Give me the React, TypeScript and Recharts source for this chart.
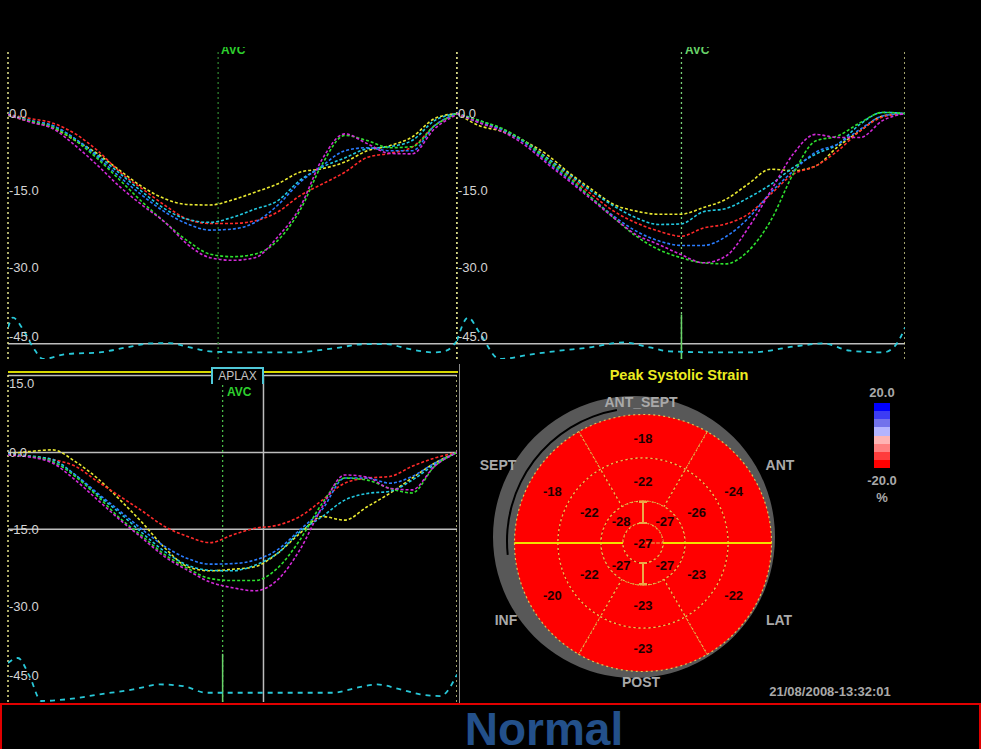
import React from "react";
import { LineChart, Line, XAxis, YAxis, ReferenceLine, PieChart, Pie, Cell } from "recharts";

const FONT = '"Liberation Sans", Arial, sans-serif';

// time axis, % of cardiac cycle
const TIME = [0, 5, 10, 15, 20, 25, 30, 35, 40, 45, 50, 55, 60, 65, 70, 75, 80, 85, 90, 95, 100];
const TIME_TICKS = [7, 14, 21, 28, 35, 42, 49, 56, 63, 70, 77, 84, 91, 98];

const SERIES = ["yellow", "red", "cyan", "blue", "green", "magenta"];
const SERIES_COLORS: Record<string, string> = {
  yellow: "#e8e830",
  red: "#ff2a2a",
  cyan: "#22c8e0",
  blue: "#2a7dff",
  green: "#2ee02e",
  magenta: "#d22ad8",
};

// top-left view
const TL_YELLOW = [-0.4, -1.6, -2.8, -5.3, -7.9, -11.2, -14.4, -16.7, -17.8, -17.9, -16.9, -15.4, -13.8, -11.5, -10.8, -9.5, -7.3, -6.3, -4.6, -1.0, 0];
const TL_RED = [-0.2, -1.0, -1.9, -4.0, -7.3, -11.5, -14.8, -18.0, -20.7, -21.5, -21.5, -21.0, -19.3, -16.1, -13.8, -11.5, -8.6, -7.8, -6.6, -2.4, 0];
const TL_CYAN = [-0.2, -1.4, -2.4, -5.0, -8.2, -11.8, -15.4, -18.7, -20.7, -21.3, -20.3, -18.7, -17.1, -13.1, -10.5, -8.7, -6.9, -6.5, -5.3, -1.4, 0];
const TL_BLUE = [-0.2, -1.4, -2.4, -5.0, -8.6, -12.5, -16.1, -19.3, -21.6, -22.8, -22.6, -21.3, -18.0, -13.5, -10.2, -7.3, -6.7, -7.3, -7.3, -2.4, 0];
const TL_GREEN = [-0.2, -1.5, -2.7, -5.3, -8.9, -13.1, -17.4, -21.3, -24.9, -27.5, -28.0, -27.5, -24.9, -19.0, -9.9, -4.3, -5.3, -6.7, -6.5, -2.4, 0];
const TL_MAGENTA = [-0.2, -1.7, -3.0, -6.3, -10.2, -14.4, -18.0, -21.3, -25.6, -28.2, -28.7, -28.2, -24.2, -18.4, -8.9, -4.0, -5.9, -7.8, -7.9, -3.0, -0.2];
const TL_ECG_T = [0, 1.1, 3.3, 5.6, 7.8, 13, 20.4, 26.4, 31.6, 36, 40.5, 45.7, 53.8, 63.5, 72.4, 79.8, 84.3, 88.7, 94.7, 97.6, 100];
const TL_ECG = [0.75, 1.05, 0.7, 0.15, -0.2, -0.05, 0.0, 0.15, 0.27, 0.28, 0.15, 0.02, 0.0, 0.0, 0.12, 0.25, 0.25, 0.12, 0.0, 0.05, 0.35];

// top-right view
const TR_YELLOW = [0, -2.4, -3.5, -5.4, -8.0, -11.6, -14.8, -17.8, -19.1, -19.7, -19.7, -18.4, -16.8, -13.8, -10.9, -11.2, -10.3, -6.5, -3.4, -0.5, 0];
const TR_RED = [0, -1.8, -3.1, -5.4, -8.6, -12.2, -15.8, -19.1, -21.4, -23.0, -24.0, -22.4, -21.6, -19.7, -15.8, -11.9, -10.3, -7.3, -3.4, -0.7, 0];
const TR_CYAN = [0, -1.4, -3.1, -5.4, -8.6, -11.9, -15.2, -18.1, -20.4, -21.7, -21.6, -19.2, -18.6, -16.5, -13.9, -10.6, -8.0, -6.0, -2.1, 0.2, 0];
const TR_BLUE = [0, -1.8, -3.1, -5.7, -9.3, -12.9, -16.5, -20.1, -23.0, -24.9, -25.8, -25.8, -24.1, -20.5, -15.5, -11.3, -7.6, -6.0, -3.1, -0.5, 0];
const TR_GREEN = [0, -1.4, -2.9, -5.4, -9.0, -12.5, -16.5, -20.4, -24.0, -26.6, -28.2, -29.2, -29.4, -26.9, -21.0, -11.9, -5.4, -4.4, -1.8, 0.2, 0];
const TR_MAGENTA = [0, -1.8, -3.5, -6.1, -9.7, -13.2, -16.8, -20.4, -23.7, -25.6, -27.6, -29.2, -27.9, -22.4, -15.2, -8.0, -4.1, -4.7, -4.7, -1.4, 0];
const TR_ECG_T = [0, 2.5, 5, 9.5, 17, 22.9, 29.6, 37.1, 43, 47.5, 58, 65.4, 76.5, 81.8, 87.7, 95.2, 98.1, 100];
const TR_ECG = [0.35, 1.05, 0.6, -0.2, -0.05, 0.05, 0.15, 0.3, 0.15, 0.03, 0.0, 0.0, 0.2, 0.27, 0.05, 0.0, 0.25, 0.75];

// bottom-left view (APLAX)
const BL_YELLOW = [-0.3, 0.2, 0.5, -1.8, -5.1, -9.3, -13.8, -18.7, -22.3, -23.1, -22.8, -22.3, -19.7, -15.8, -12.5, -13.2, -10.6, -8.0, -5.0, -2.1, 0];
const BL_RED = [-0.5, -0.8, -1.4, -2.7, -5.7, -8.6, -11.5, -14.5, -16.4, -17.6, -16.1, -14.8, -14.2, -12.5, -9.3, -6.0, -5.0, -4.7, -2.7, -1.1, 0];
const BL_CYAN = [-0.3, -0.7, -1.4, -4.4, -8.3, -11.9, -15.8, -19.4, -22.0, -23.0, -23.1, -22.0, -19.7, -15.5, -12.5, -9.3, -8.0, -7.6, -5.4, -2.4, 0];
const BL_BLUE = [-0.3, -0.8, -1.8, -4.4, -8.0, -11.5, -15.1, -18.4, -20.7, -21.8, -21.7, -21.0, -19.0, -15.1, -11.1, -5.0, -5.0, -6.0, -4.7, -2.1, 0];
const BL_GREEN = [-0.5, -0.8, -1.8, -4.7, -8.6, -12.9, -16.4, -20.0, -22.6, -24.6, -25.0, -25.0, -22.6, -17.1, -9.9, -5.0, -5.4, -7.0, -7.9, -2.7, 0];
const BL_MAGENTA = [-0.5, -0.9, -2.1, -5.4, -9.3, -13.2, -16.8, -20.4, -23.0, -25.3, -26.4, -27.0, -24.9, -19.0, -10.6, -4.4, -4.8, -7.0, -7.3, -2.7, 0];
const BL_ECG_T = [0, 2.2, 4.8, 7.4, 13, 20.4, 27.9, 33.8, 39, 44.2, 54.6, 72.5, 77.7, 82.2, 87.4, 91.8, 96.3, 100];
const BL_ECG = [0.9, 1.05, 0.5, -0.25, -0.2, -0.05, 0.1, 0.25, 0.2, 0.0, 0.0, 0.0, 0.15, 0.25, 0.1, -0.05, -0.1, 0.55];

// bull's eye segments (counterclockwise from the top)
const BASAL = [-18, -18, -20, -23, -22, -24];
const MID = [-22, -22, -22, -23, -23, -26];
const APICAL = [-27, -28, -27, -27];
const APEX = [-27];
const COLOR_BINS = ["#0000ff", "#3c3cf4", "#7272ec", "#b4b4ff", "#ffb4b4", "#ff8080", "#ff3c3c", "#ff0000"];

const strainColor = (v: number) => {
  const i = Math.min(7, Math.max(0, Math.floor((20 - v) / 5)));
  return COLOR_BINS[i];
};

const StrainTick = (props: any) => {
  const { y, payload, topTick } = props;
  const v = payload.value;
  const dy = v === -45 ? -8 : v === topTick ? 7 : 0;
  return (
    <text x={2} y={y + dy} dy={5} fill="#d4d4d4" fontSize={13} fontFamily={FONT} textAnchor="start">
      {(v < 0 ? "-" : "") + Math.abs(v).toFixed(1)}
    </text>
  );
};

type PanelProps = {
  left: number;
  top: number;
  width: number;
  height: number;
  curves: Record<string, number[]>;
  ecgTime: number[];
  ecg: number[];
  strainDomain: [number, number];
  ecgDomain: [number, number];
  yTicks: number[];
  avc: number;
  avcColor: string;
  avcSolid?: boolean;
  hLines: number[];
  vLine?: number;
};

const StrainPanel = (p: PanelProps) => {
  const rows = TIME.map((t, i) => {
    const r: any = { t };
    SERIES.forEach((k) => (r[k] = p.curves[k][i]));
    return r;
  });
  const ecgRows = p.ecgTime.map((t, i) => ({ t, ecg: p.ecg[i] }));
  const [lo, hi] = p.strainDomain;
  // axes take 1px each so that they still get drawn
  return (
    <div style={{ position: "absolute", left: p.left - 1, top: p.top }}>
      <LineChart width={p.width + 1} height={p.height + 1} data={rows} margin={{ top: 0, right: 0, bottom: 0, left: 0 }}>
        <XAxis
          type="number"
          dataKey="t"
          domain={[0, 100]}
          ticks={TIME_TICKS}
          interval={0}
          tick={false}
          tickLine={{ stroke: "#d8d8d8" }}
          tickSize={5}
          axisLine={false}
          mirror
          height={1}
          allowDataOverflow
        />
        <YAxis
          yAxisId="s"
          domain={p.strainDomain}
          ticks={p.yTicks}
          interval={0}
          width={1}
          tickSize={0}
          tickMargin={0}
          axisLine={false}
          tickLine={false}
          tick={(tp: any) => <StrainTick {...tp} topTick={hi > 12.5 ? 15 : 999} />}
          allowDataOverflow
        />
        <YAxis yAxisId="ecg" domain={p.ecgDomain} hide allowDataOverflow />
        {p.hLines.map((h) => (
          <ReferenceLine key={h} yAxisId="s" y={h} stroke="#bdbdbd" strokeWidth={1.5} />
        ))}
        {p.vLine !== undefined && (
          <ReferenceLine
            yAxisId="s"
            segment={[{ x: p.vLine, y: 15 }, { x: p.vLine, y: lo }]}
            stroke="#bdbdbd"
            strokeWidth={1.5}
          />
        )}
        <ReferenceLine yAxisId="s" x={0} stroke="#e4e48a" strokeWidth={1.5} strokeDasharray="2 3" />
        <ReferenceLine yAxisId="s" x={100} stroke="#d8d890" strokeWidth={1.5} strokeDasharray="2 3" />
        <ReferenceLine yAxisId="s" x={p.avc} stroke={p.avcColor} strokeWidth={1.3} strokeDasharray="2 3" />
        {p.avcSolid && (
          <ReferenceLine
            yAxisId="s"
            segment={[{ x: p.avc, y: -39.3 }, { x: p.avc, y: lo }]}
            stroke="#6ad46a"
            strokeWidth={1.5}
          />
        )}
        <Line
          yAxisId="ecg"
          data={ecgRows}
          dataKey="ecg"
          type="monotone"
          stroke="#28c8d8"
          strokeWidth={1.8}
          strokeDasharray="5 5"
          dot={false}
          isAnimationActive={false}
        />
        {SERIES.map((k) => (
          <Line
            key={k}
            yAxisId="s"
            dataKey={k}
            type="monotone"
            stroke={SERIES_COLORS[k]}
            strokeWidth={1.6}
            strokeDasharray="3 2"
            dot={false}
            isAnimationActive={false}
          />
        ))}
      </LineChart>
    </div>
  );
};

const segLabel = (vals: number[], adj: number) => (props: any) => {
  const { cx, cy, midAngle, innerRadius, outerRadius, index } = props;
  const r = innerRadius === 0 ? 0 : (innerRadius + outerRadius) / 2 + adj;
  const rad = Math.PI / 180;
  const x = cx + r * Math.cos(-midAngle * rad);
  const y = cy + r * Math.sin(-midAngle * rad);
  return (
    <text x={x} y={y} dy={5} textAnchor="middle" fill="#1c0000" fontSize={13} fontWeight="bold" fontFamily={FONT}>
      {vals[index]}
    </text>
  );
};

const Txt = ({ x, y, children, size = 13, color = "#a9a9a9", bold = true }: any) => (
  <div
    style={{
      position: "absolute",
      left: x,
      top: y,
      transform: "translate(-50%, -50%)",
      whiteSpace: "nowrap",
      fontSize: size,
      lineHeight: 1,
      fontWeight: bold ? "bold" : "normal",
      color,
      fontFamily: FONT,
    }}
  >
    {children}
  </div>
);

const BullsEye = () => {
  const w = (vals: number[]) => vals.map((v) => ({ w: 1, strain: v }));
  const sectorStroke = { stroke: "#e8c050", strokeWidth: 1.2, strokeDasharray: "2 3" };
  return (
    <div style={{ position: "absolute", left: 463, top: 363 }}>
      <PieChart width={360} height={340} margin={{ top: 0, right: 0, bottom: 0, left: 0 }}>
        <Pie data={[{ w: 1 }]} dataKey="w" cx={171} cy={174} innerRadius={116} outerRadius={141} stroke="none" fill="#585858" isAnimationActive={false} />
        <Pie data={[{ w: 1 }]} dataKey="w" cx={177} cy={178} innerRadius={132} outerRadius={134} startAngle={100} endAngle={186} stroke="none" fill="#000" isAnimationActive={false} />
        <Pie
          data={w(BASAL)}
          dataKey="w"
          cx={180}
          cy={180}
          innerRadius={85}
          outerRadius={128.5}
          startAngle={60}
          endAngle={420}
          label={segLabel(BASAL, -2)}
          labelLine={false}
          isAnimationActive={false}
        >
          {BASAL.map((v, i) => (
            <Cell key={i} fill={strainColor(v)} {...sectorStroke} />
          ))}
        </Pie>
        <Pie
          data={w(MID)}
          dataKey="w"
          cx={180}
          cy={180}
          innerRadius={42}
          outerRadius={85}
          startAngle={60}
          endAngle={420}
          label={segLabel(MID, -1.5)}
          labelLine={false}
          isAnimationActive={false}
        >
          {MID.map((v, i) => (
            <Cell key={i} fill={strainColor(v)} {...sectorStroke} />
          ))}
        </Pie>
        <Pie
          data={w(APICAL)}
          dataKey="w"
          cx={180}
          cy={180}
          innerRadius={20}
          outerRadius={42}
          startAngle={0}
          endAngle={360}
          label={segLabel(APICAL, 0)}
          labelLine={false}
          isAnimationActive={false}
        >
          {APICAL.map((v, i) => (
            <Cell key={i} fill={strainColor(v)} {...sectorStroke} />
          ))}
        </Pie>
        <Pie
          data={w(APEX)}
          dataKey="w"
          cx={180}
          cy={180}
          innerRadius={0}
          outerRadius={20}
          label={segLabel(APEX, 0)}
          labelLine={false}
          isAnimationActive={false}
        >
          {APEX.map((v, i) => (
            <Cell key={i} fill={strainColor(v)} {...sectorStroke} />
          ))}
        </Pie>
      </PieChart>
      <svg width={360} height={340} style={{ position: "absolute", left: 0, top: 0, pointerEvents: "none" }}>
        <line x1={51.5} y1={180} x2={160} y2={180} stroke="#f4e000" strokeWidth={2} />
        <line x1={200} y1={180} x2={308.5} y2={180} stroke="#f4e000" strokeWidth={2} />
        <g stroke="#eca848" strokeWidth={2}>
          <line x1={180} y1={139} x2={180} y2={160} />
          <line x1={176} y1={139} x2={184} y2={139} />
          <line x1={176} y1={160} x2={184} y2={160} />
          <line x1={180} y1={200} x2={180} y2={221} />
          <line x1={176} y1={200} x2={184} y2={200} />
          <line x1={176} y1={221} x2={184} y2={221} />
        </g>
      </svg>
    </div>
  );
};

export default function App() {
  return (
    <div
      style={{
        position: "fixed",
        left: 0,
        top: 0,
        width: 981,
        height: 749,
        background: "#000",
        overflow: "hidden",
        fontFamily: FONT,
      }}
    >
      <StrainPanel
        left={8}
        top={50}
        width={449}
        height={308}
        curves={{ yellow: TL_YELLOW, red: TL_RED, cyan: TL_CYAN, blue: TL_BLUE, green: TL_GREEN, magenta: TL_MAGENTA }}
        ecgTime={TL_ECG_T}
        ecg={TL_ECG}
        strainDomain={[-48, 12.4]}
        ecgDomain={[-0.2, 9.13]}
        yTicks={[0, -15, -30, -45]}
        avc={46.8}
        avcColor="#2f7f2f"
        hLines={[-45]}
      />
      <StrainPanel
        left={457}
        top={50}
        width={448}
        height={308}
        curves={{ yellow: TR_YELLOW, red: TR_RED, cyan: TR_CYAN, blue: TR_BLUE, green: TR_GREEN, magenta: TR_MAGENTA }}
        ecgTime={TR_ECG_T}
        ecg={TR_ECG}
        strainDomain={[-48, 12.4]}
        ecgDomain={[-0.2, 9.13]}
        yTicks={[0, -15, -30, -45]}
        avc={50.1}
        avcColor="#78d078"
        avcSolid
        hLines={[-45]}
      />
      <StrainPanel
        left={8}
        top={372}
        width={449}
        height={329}
        curves={{ yellow: BL_YELLOW, red: BL_RED, cyan: BL_CYAN, blue: BL_BLUE, green: BL_GREEN, magenta: BL_MAGENTA }}
        ecgTime={BL_ECG_T}
        ecg={BL_ECG}
        strainDomain={[-48.7, 15.7]}
        ecgDomain={[-0.28, 9.69]}
        yTicks={[15, 0, -15, -30, -45]}
        avc={47.8}
        avcColor="#48b848"
        avcSolid
        hLines={[15, 0, -15]}
        vLine={56.9}
      />

      {/* frame pieces */}
      <div style={{ position: "absolute", left: 8, top: 371, width: 450, height: 2, background: "#d8d800" }} />
      <div style={{ position: "absolute", left: 459, top: 364, width: 1, height: 340, background: "#8a8a8a" }} />
      <div
        style={{
          position: "absolute",
          left: 211,
          top: 367,
          width: 49,
          height: 15,
          borderTop: "2px solid #50c8d8",
          borderLeft: "2px solid #50c8d8",
          borderRight: "2px solid #50c8d8",
          background: "#000",
          color: "#c4c4c4",
          fontSize: 12,
          lineHeight: "15px",
          textAlign: "center",
          fontFamily: FONT,
        }}
      >
        APLAX
      </div>
      <div style={{ position: "absolute", left: 227, top: 386, fontSize: 12, fontWeight: "bold", color: "#2ed02e", lineHeight: 1 }}>AVC</div>
      <div style={{ position: "absolute", left: 221, top: 44, fontSize: 12, fontWeight: "bold", color: "#2ed02e", lineHeight: 1 }}>AVC</div>
      <div style={{ position: "absolute", left: 685, top: 44, fontSize: 12, fontWeight: "bold", color: "#6ad46a", lineHeight: 1 }}>AVC</div>
      <div style={{ position: "absolute", left: 0, top: 0, width: 981, height: 47, background: "#000" }} />

      <BullsEye />
      <Txt x={679} y={375} size={14.5} color="#ecec20">Peak Systolic Strain</Txt>
      <Txt x={641} y={402} size={14}>ANT_SEPT</Txt>
      <Txt x={498} y={465} size={14}>SEPT</Txt>
      <Txt x={780} y={465} size={14}>ANT</Txt>
      <Txt x={506} y={620} size={14}>INF</Txt>
      <Txt x={779} y={620} size={14}>LAT</Txt>
      <Txt x={641} y={682} size={14}>POST</Txt>
      <Txt x={830} y={691}>21/08/2008-13:32:01</Txt>

      <Txt x={882} y={392}>20.0</Txt>
      <div style={{ position: "absolute", left: 874, top: 403, width: 16, height: 65, display: "flex", flexDirection: "column" }}>
        {COLOR_BINS.map((c) => (
          <div key={c} style={{ flex: 1, background: c }} />
        ))}
      </div>
      <Txt x={882} y={480}>-20.0</Txt>
      <Txt x={882} y={497}>%</Txt>

      <div
        style={{
          position: "absolute",
          left: 0,
          top: 703,
          width: 981,
          height: 50,
          boxSizing: "border-box",
          border: "2px solid #e00000",
        }}
      />
      <div
        style={{
          position: "absolute",
          left: 444,
          top: 711,
          width: 200,
          height: 36,
          textAlign: "center",
          fontSize: 46,
          lineHeight: "36px",
          fontWeight: "bold",
          color: "#23508a",
          fontFamily: FONT,
        }}
      >
        Normal
      </div>
    </div>
  );
}
